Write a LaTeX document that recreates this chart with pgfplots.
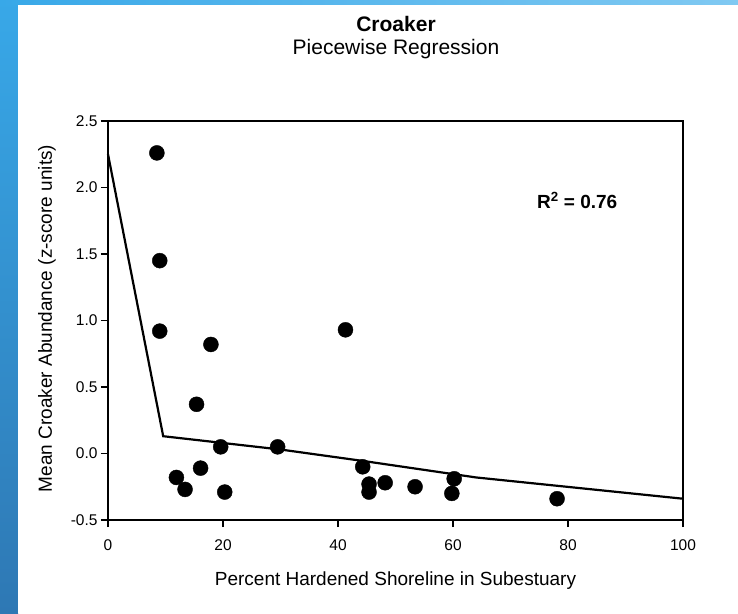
\documentclass[border=0pt]{standalone}
\usepackage{pgfplots}
\pgfplotsset{compat=1.18}
\usepackage{fontspec}
\setmainfont{Liberation Sans}
\definecolor{blueA}{HTML}{38A8E8}
\definecolor{blueB}{HTML}{2E78B4}
\definecolor{blueC}{HTML}{80C9F2}
\begin{document}
\begin{tikzpicture}[x=1pt,y=1pt]
\useasboundingbox (0,0) rectangle (738,613);
\shade[top color=blueA, bottom color=blueB] (0,0) rectangle (18,613);
\shade[left color=blueA, right color=blueC] (0,608) rectangle (738,613);
\fill[white] (18,0) rectangle (738,608);
\node[font=\bfseries\fontsize{21}{24}\selectfont, anchor=base] at (396,581.3) {Croaker};
\node[font=\fontsize{21}{24}\selectfont, anchor=base] at (396,558.7) {Piecewise Regression};
\begin{axis}[
  at={(108pt,93pt)}, anchor=south west,
  width=575pt, height=399pt, scale only axis,
  xmin=0, xmax=100, ymin=-0.5, ymax=2.5,
  xtick={0,20,40,60,80,100},
  ytick={-0.5,0,0.5,1,1.5,2,2.5},
  tick align=outside, xtick pos=bottom, ytick pos=left,
  major tick length=7pt,
  axis line style={line width=1.3pt},
  every tick/.style={line width=1.3pt, black},
  /pgf/number format/assume math mode=true,
  yticklabel style={/pgf/number format/.cd, fixed, fixed zerofill, precision=1},
  tick label style={font=\fontsize{15.5}{18}\selectfont},
  xticklabel style={anchor=base, yshift=-23pt},
  label style={font=\fontsize{19}{22}\selectfont},
  xlabel={Percent Hardened Shoreline in Subestuary},
  ylabel={Mean Croaker Abundance (z-score units)},
  xlabel style={at={(axis description cs:0.5,-0.163)}, anchor=base},
  ylabel style={at={(axis description cs:-0.0974,0.505)}, anchor=base},
  clip=false,
]
\addplot[black, line width=2.2pt, mark=none] coordinates {
  (0,2.25) (9.6,0.13) (30,0.03) (45,-0.06) (64,-0.18) (100,-0.34)
};
\addplot[only marks, mark=*, mark size=7.5pt, black] coordinates {
  (8.5,2.26) (9.0,1.45) (9.0,0.92) (17.9,0.82) (15.4,0.37) (19.6,0.05)
  (11.9,-0.18) (13.4,-0.27) (16.1,-0.11) (20.3,-0.29) (29.5,0.05)
  (41.3,0.93) (44.3,-0.10) (45.4,-0.23) (45.4,-0.29) (48.2,-0.22)
  (53.4,-0.25) (60.2,-0.19) (59.8,-0.30) (78.1,-0.34)
};
\node[font=\bfseries\fontsize{19}{22}\selectfont, anchor=base] at (axis cs:81.6,1.844) {R\textsuperscript{2} = 0.76};
\end{axis}
\end{tikzpicture}
\end{document}
